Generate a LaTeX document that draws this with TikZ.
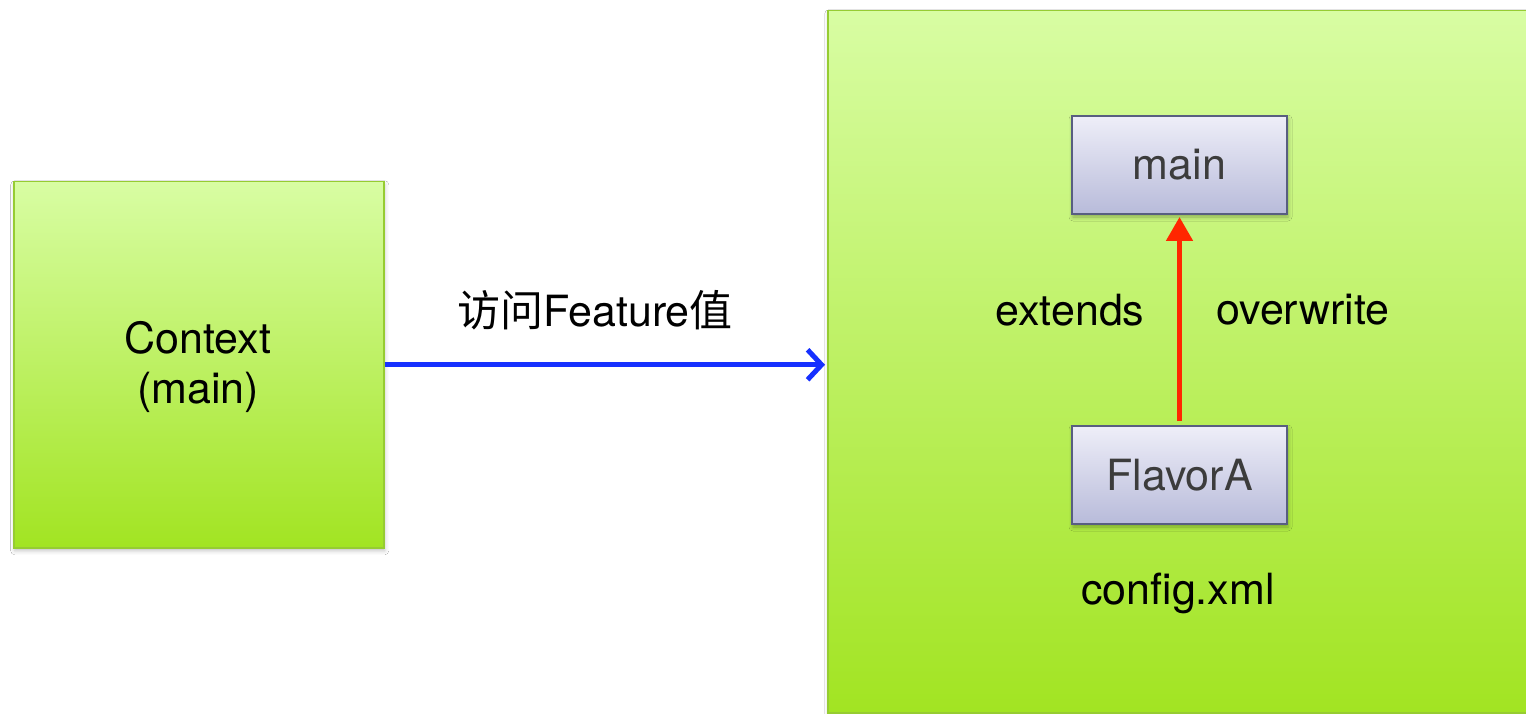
\documentclass[tikz,border=0pt]{standalone}
\usepackage{fontspec}
\setmainfont{TeX Gyre Heros}
\newfontfamily\cjk{Noto Sans CJK SC}
\usetikzlibrary{arrows.meta,shadows.blur}
\definecolor{gtop}{RGB}{216,253,163}
\definecolor{gbot}{RGB}{162,228,34}
\definecolor{gline}{RGB}{150,204,50}
\definecolor{btop}{RGB}{238,238,248}
\definecolor{bbot}{RGB}{184,187,218}
\definecolor{bline}{RGB}{88,94,128}
\definecolor{btext}{RGB}{60,60,60}
\definecolor{arrblue}{RGB}{22,48,255}
\definecolor{arrred}{RGB}{255,38,0}
\tikzset{
  greenbox/.style={draw=gline, line width=1.5pt, top color=gtop, bottom color=gbot,
    anchor=north west, inner sep=0pt,
    blur shadow={shadow xshift=1pt, shadow yshift=-3pt, shadow blur radius=4pt, shadow opacity=25}},
  graybox/.style={draw=bline, line width=2pt, top color=btop, bottom color=bbot,
    minimum width=215pt, minimum height=98pt, anchor=north west, inner sep=0pt,
    text=btext, font=\fontsize{43}{50}\selectfont,
    blur shadow={shadow xshift=1pt, shadow yshift=-3pt, shadow blur radius=4pt, shadow opacity=30}},
  lbl/.style={font=\fontsize{43}{50}\selectfont, text=black, inner sep=0pt},
  bluearrow/.style={draw=arrblue, line width=5pt, -{Straight Barb[length=14pt,width=30pt,line width=5pt]}},
  redarrow/.style={draw=arrred, line width=5pt, -{Triangle[length=24pt,width=26pt]}},
}
\begin{document}
\begin{tikzpicture}[x=1pt,y=-1pt]
\useasboundingbox (0,0) rectangle (1526,714);
\fill[white] (0,0) rectangle (1526,714);
\node[greenbox, minimum width=370pt, minimum height=366pt] (ctx) at (13,181) {};
\node[lbl, align=center] (ctxt) at (198,367) {Context\\(main)};
\node[greenbox, minimum width=720pt, minimum height=702pt] (cfg) at (827,10) {};
\node[graybox] (main) at (1071,115) {main};
\node[graybox] (flavor) at (1071,425) {FlavorA};
\draw[redarrow, shorten <=4pt, shorten >=2pt] (flavor.north) -- (main.south);
\coordinate (bend) at (ctx.east -| cfg.west);
\draw[bluearrow, shorten >=2pt] (ctx.east) -- (bend);
\node[lbl] (acc) at (595,310) {{\cjk 访问}Feature{\cjk 值}};
\node[lbl] (ext) at (1070,310) {extends};
\node[lbl] (ovw) at (1303,310) {overwrite};
\node[lbl] (cfgx) at (1178,593) {config.xml};
\end{tikzpicture}
\end{document}
